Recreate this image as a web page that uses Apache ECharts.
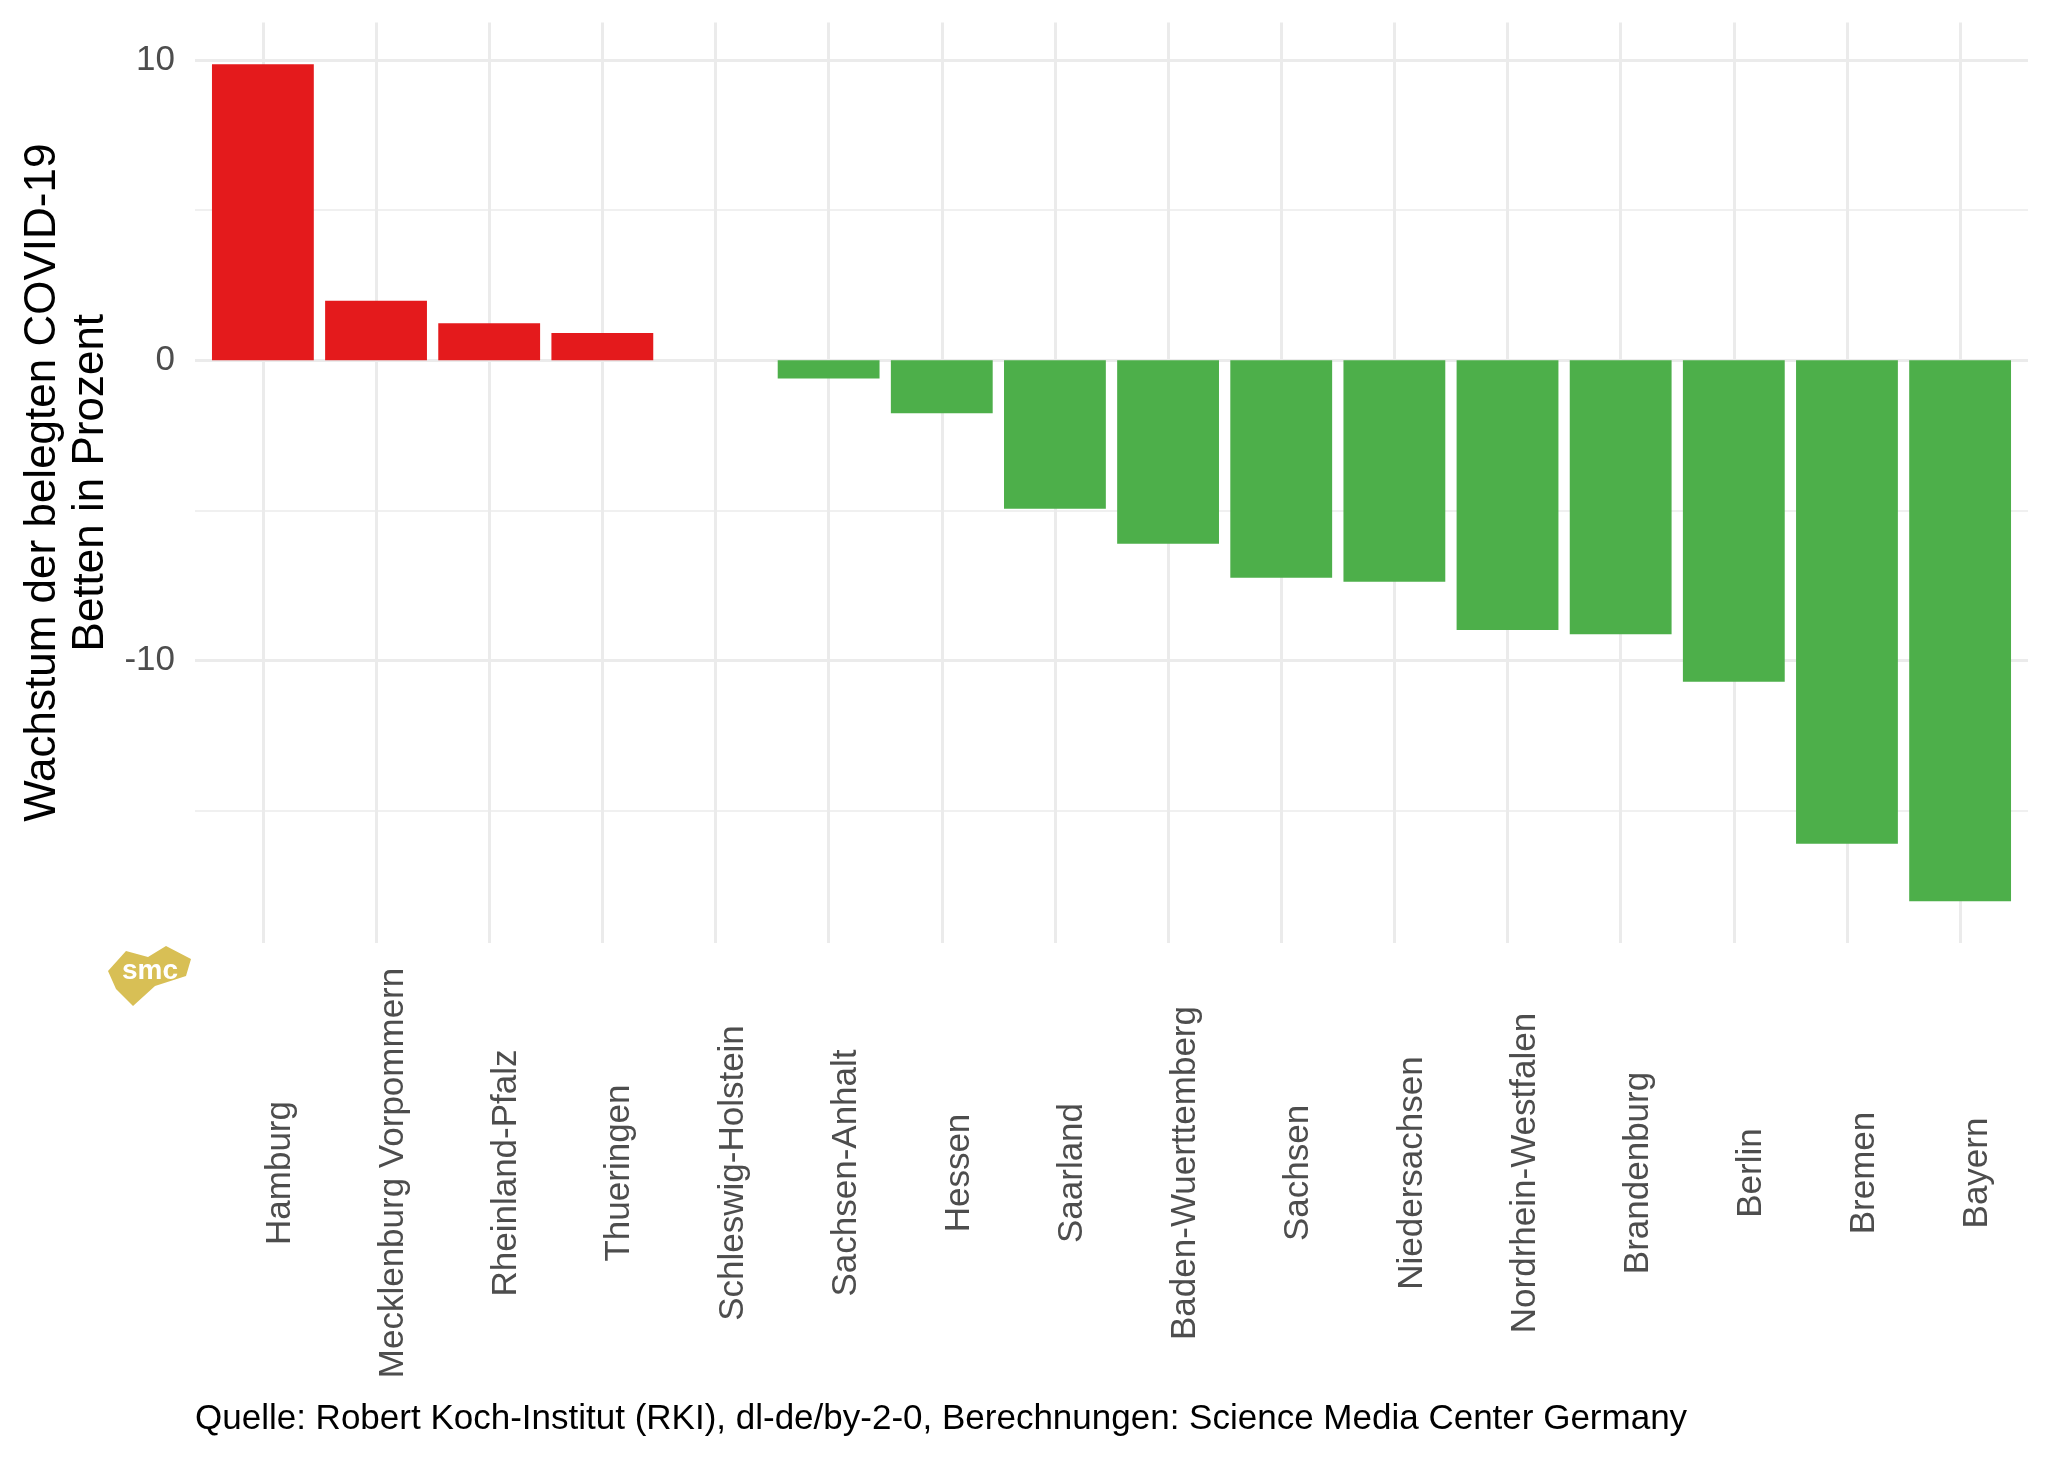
<!DOCTYPE html>
<html>
<head>
<meta charset="utf-8">
<script src="https://cdn.jsdelivr.net/npm/echarts@6/dist/echarts.min.js"></script>
<style>
html,body{margin:0;padding:0;background:#fff;}
#c{width:2048px;height:1462px;}
</style>
</head>
<body>
<div id="c"></div>
<script>
// ---- data ----
const states = ['Hamburg','Mecklenburg Vorpommern','Rheinland-Pfalz','Thueringen','Schleswig-Holstein','Sachsen-Anhalt','Hessen','Saarland','Baden-Wuerttemberg','Sachsen','Niedersachsen','Nordrhein-Westfalen','Brandenburg','Berlin','Bremen','Bayern'];
const growth = [9.86, 1.98, 1.23, 0.91, 0, -0.61, -1.77, -4.95, -6.11, -7.25, -7.38, -8.99, -9.13, -10.71, -16.11, -18.02];
const majorTicks = [-10, 0, 10];
const minorTicks = [-15, -5, 5];
const tickLabels = ['-10', '0', '10'];
const yTitle = ['Wachstum der belegten COVID-19', 'Betten in Prozent'];
const caption = 'Quelle: Robert Koch-Institut (RKI), dl-de/by-2-0, Berechnungen: Science Media Center Germany';

const RED = '#E41A1C', GREEN = '#4DAF4A', GRID = '#EBEBEB';
const FONT = '"Liberation Sans", Arial, Helvetica, sans-serif';

const yMinD = Math.min(0, ...growth), yMaxD = Math.max(0, ...growth);
const pad = (yMaxD - yMinD) * 0.05;
const idx = states.map((s, i) => i);

const chart = echarts.init(document.getElementById('c'), null, {renderer: 'canvas'});

const gridLineData = []
  .concat(majorTicks.map(v => ({yAxis: v, lineStyle: {width: 3, color: GRID, type: 'solid'}})))
  .concat(minorTicks.map(v => ({yAxis: v, lineStyle: {width: 1.6, color: GRID, type: 'solid'}})))
  .concat(idx.map(i => ({xAxis: i, lineStyle: {width: 3, color: GRID, type: 'solid'}})));

chart.setOption({
  animation: false,
  backgroundColor: '#fff',
  textStyle: {fontFamily: FONT},
  grid: {left: 195, right: 20, top: 22.4, bottom: 519, containLabel: false, outerBoundsMode: 'none'},
  xAxis: {
    type: 'value',
    min: -0.6,
    max: states.length - 1 + 0.6,
    axisLine: {show: false},
    axisTick: {show: false, customValues: idx},
    splitLine: {show: false},
    axisLabel: {
      customValues: idx,
      formatter: v => states[Math.round(v)],
      rotate: 90,
      align: 'center',
      verticalAlign: 'top',
      margin: 230,
      fontSize: 35,
      lineHeight: 35,
      color: '#4D4D4D',
      fontFamily: FONT
    }
  },
  yAxis: {
    type: 'value',
    min: yMinD - pad,
    max: yMaxD + pad,
    axisLine: {show: false},
    axisTick: {show: false, customValues: majorTicks},
    splitLine: {show: false},
    axisLabel: {
      customValues: majorTicks,
      formatter: v => tickLabels[majorTicks.indexOf(Math.round(v))],
      margin: 20,
      fontSize: 35,
      color: '#4D4D4D',
      fontFamily: FONT
    },
    name: yTitle.join('\n'),
    nameLocation: 'middle',
    nameRotate: 90,
    nameGap: 80,
    nameMoveOverlap: false,
    nameTextStyle: {fontSize: 44, color: '#000', lineHeight: 48, fontFamily: FONT}
  },
  title: {
    text: caption,
    left: 195,
    top: 1402,
    padding: 0,
    textStyle: {fontSize: 35, fontWeight: 'normal', color: '#000', fontFamily: FONT}
  },
  graphic: [{
    type: 'group',
    left: 108, top: 946,
    children: [
      {type: 'polygon', shape: {points: [[2,26],[20,6],[42,12],[60,1],[85,14],[80,31],[49,41],[27,61],[10,44]]}, style: {fill: '#D8BF55'}},
      {type: 'text', style: {text: 'smc', x: 44, y: 26, align: 'center', verticalAlign: 'middle', fontSize: 28, fontWeight: 'bold', fill: '#fff', fontFamily: FONT}}
    ]
  }],
  series: [
    {
      type: 'line',
      data: idx.map(i => [i, growth[i]]),
      symbol: 'none',
      lineStyle: {opacity: 0},
      silent: true,
      z: 1,
      markLine: {
        z: 1,
        silent: true,
        symbol: ['none', 'none'],
        label: {show: false},
        emphasis: {disabled: true},
        animation: false,
        data: gridLineData
      }
    },
    {
      type: 'bar',
      z: 10,
      barWidth: '90%',
      data: idx.map(i => ({value: [i, growth[i]], itemStyle: {color: growth[i] > 0 ? RED : GREEN}}))
    }
  ]
});
</script>
</body>
</html>
